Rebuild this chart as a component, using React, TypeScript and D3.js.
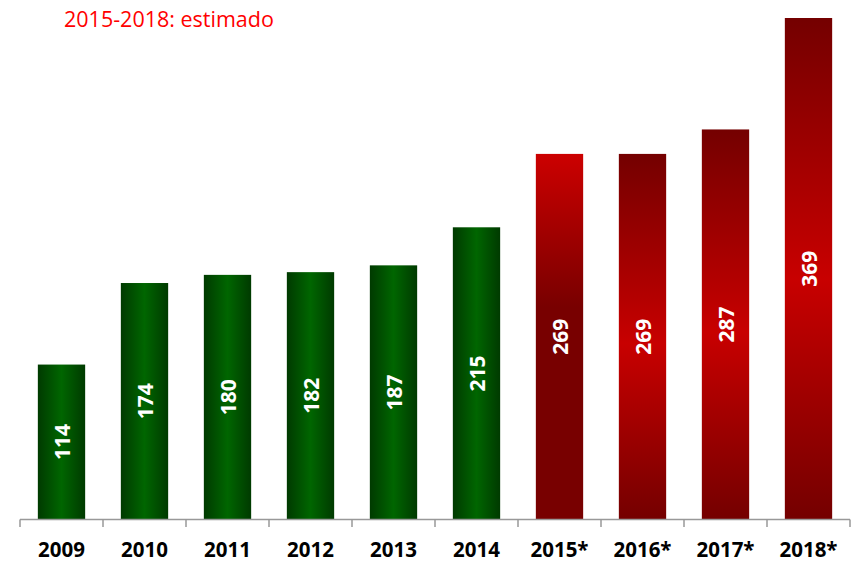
import React from "react";
import * as d3 from "d3";

const categories = ["2009", "2010", "2011", "2012", "2013", "2014", "2015*", "2016*", "2017*", "2018*"];
const values = [114, 174, 180, 182, 187, 215, 269, 269, 287, 369];
const kinds = ["g", "g", "g", "g", "g", "g", "r1", "r2", "r2", "r2"];
const title = "2015-2018: estimado";

const W = 854;
const H = 563;
const axisLeft = 20;
const axisRight = 850;
const baseY = 519.5;
const topY = 18;

export default function App() {
  const x = d3.scaleBand<string>().domain(categories).range([axisLeft, axisRight]).paddingInner(0.43).paddingOuter(0.215);
  const y = d3.scaleLinear().domain([0, 369]).range([baseY, topY]);
  const ticks = d3.range(categories.length + 1).map((i) => axisLeft + (i * (axisRight - axisLeft)) / categories.length);
  const font = "'Open Sans', 'Liberation Sans', sans-serif";
  return (
    <svg width={W} height={H} style={{ position: "absolute", left: 0, top: 0, background: "#fff" }}>
      <defs>
        <linearGradient id="gG" x1="0" x2="1" y1="0" y2="0">
          <stop offset="0" stopColor="#003a00" />
          <stop offset="0.5" stopColor="#006600" />
          <stop offset="1" stopColor="#003a00" />
        </linearGradient>
        <linearGradient id="gR1" x1="0" x2="0" y1="0" y2="1">
          <stop offset="0" stopColor="#cc0000" />
          <stop offset="0.42" stopColor="#780000" />
          <stop offset="1" stopColor="#780000" />
        </linearGradient>
        <linearGradient id="gR2" x1="0" x2="0" y1="0" y2="1">
          <stop offset="0" stopColor="#740000" />
          <stop offset="0.52" stopColor="#c80000" />
          <stop offset="1" stopColor="#740000" />
        </linearGradient>
      </defs>
      <text x={64} y={27} fill="#ff0000" fontFamily={font} fontSize={21.5}>{title}</text>
      {categories.map((c, i) => {
        const bx = x(c)!;
        const bw = x.bandwidth();
        const by = y(values[i]);
        const bh = baseY - by;
        const fill = kinds[i] === "g" ? "url(#gG)" : kinds[i] === "r1" ? "url(#gR1)" : "url(#gR2)";
        const cx = bx + bw / 2;
        const cy = by + bh / 2;
        return (
          <g key={c}>
            <rect x={bx} y={by} width={bw} height={bh} fill={fill} />
            <text
              transform={`translate(${cx},${cy}) rotate(-90)`}
              textAnchor="middle"
              dominantBaseline="central"
              fill="#fff"
              fontFamily={font}
              fontWeight="bold"
              fontSize={21}
            >
              {values[i]}
            </text>
            <text x={cx} y={557} textAnchor="middle" fill="#000" fontFamily={font} fontWeight="bold" fontSize={20.5}>
              {c}
            </text>
          </g>
        );
      })}
      <line x1={axisLeft} x2={axisRight} y1={baseY} y2={baseY} stroke="#999" strokeWidth={1.5} />
      {ticks.map((t, i) => (
        <line key={i} x1={t} x2={t} y1={baseY} y2={527} stroke="#999" strokeWidth={1.5} />
      ))}
    </svg>
  );
}
